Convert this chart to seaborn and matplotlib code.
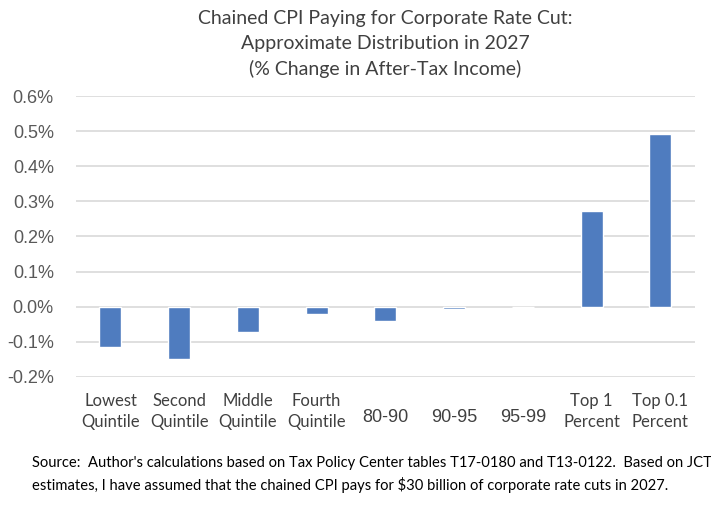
import matplotlib
matplotlib.use("Agg")
import matplotlib.pyplot as plt
import matplotlib.transforms as mtransforms
import seaborn as sns
from matplotlib.ticker import FuncFormatter

# Data (% change in after-tax income, 2027)
groups = ["Lowest\nQuintile", "Second\nQuintile", "Middle\nQuintile", "Fourth\nQuintile",
          "80-90", "90-95", "95-99", "Top 1\nPercent", "Top 0.1\nPercent"]
pct_change = [-0.114, -0.149, -0.071, -0.022, -0.042, -0.006, 0.0, 0.272, 0.493]
y_ticks = [-0.2, -0.1, 0.0, 0.1, 0.2, 0.3, 0.4, 0.5, 0.6]

title = ("Chained CPI Paying for Corporate Rate Cut:\n"
         "Approximate Distribution in 2027\n"
         "(% Change in After-Tax Income)")
source = ("Source:  Author's calculations based on Tax Policy Center tables T17-0180 and T13-0122.  Based on JCT\n"
          "estimates, I have assumed that the chained CPI pays for $30 billion of corporate rate cuts in 2027.")

sns.set_style("white")
plt.rcParams['font.family'] = ['Lato', 'DejaVu Sans']

fig = plt.figure(figsize=(7.11, 5.08), dpi=100)
ax = fig.add_axes([0.107, 0.258, 0.870, 0.553])

sns.barplot(x=groups, y=pct_change, color="#4F7CBF", saturation=1, width=0.32, ax=ax)

ax.set_ylim(-0.2, 0.6)
ax.set_xlim(-0.5, 8.5)
ax.set_yticks(y_ticks)
ax.yaxis.set_major_formatter(FuncFormatter(lambda v, p: f"{v:.1f}%"))
ax.grid(axis="y", color="#D9D9D9", linewidth=1.2)
ax.set_axisbelow(True)
for s in ax.spines.values():
    s.set_visible(False)

ax.tick_params(axis="y", length=0, pad=16, labelsize=13, labelcolor="#595959")
ax.tick_params(axis="x", length=0, pad=25)
for lab in ax.get_yticklabels():
    lab.set_family(["Liberation Sans", "DejaVu Sans"])

# single-line labels sit between the two lines of the others
shift_down = mtransforms.ScaledTranslation(0, -5.5 / 100, fig.dpi_scale_trans)
for lab in ax.get_xticklabels():
    lab.set_va("center")
    lab.set_color("#404040")
    if "\n" in lab.get_text():
        lab.set_fontsize(12)
        lab.set_linespacing(1.35)
    else:
        lab.set_fontsize(13)
        lab.set_family(["Liberation Sans", "DejaVu Sans"])
        lab.set_transform(lab.get_transform() + shift_down)

ax.set_xlabel("")
ax.set_ylabel("")

fig.text(0.542, 0.980, title, ha="center", va="top", fontsize=14, color="#404040", linespacing=1.55)
fig.text(0.045, 0.103, source, ha="left", va="top", fontsize=10.6, color="#000000", linespacing=1.6)

fig.savefig("out.png", dpi=100)
